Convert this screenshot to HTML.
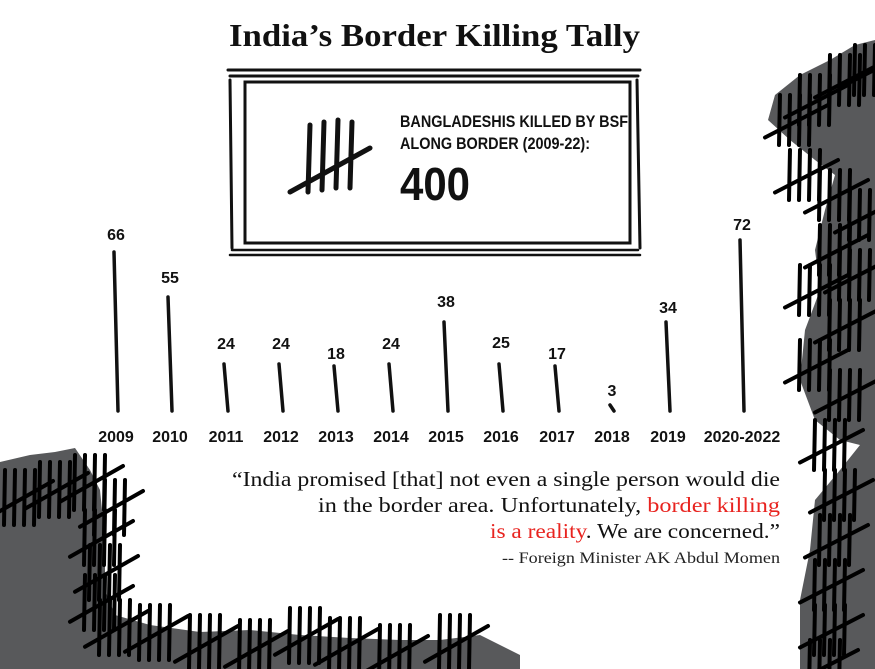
<!DOCTYPE html>
<html><head><meta charset="utf-8"><style>
body{margin:0;background:#fff}
svg{display:block}
.yr{font-family:"Liberation Sans",sans-serif;font-weight:bold;font-size:16px;fill:#111}
.q{font-family:"Liberation Serif",serif;font-size:21px;fill:#111}
</style></head><body>
<svg id="s" width="875" height="669" viewBox="0 0 875 669" xmlns="http://www.w3.org/2000/svg">
<path fill="#58595b" d="M0,462 L30,455 L55,452 L75,448 L90,470 L100,490 L105,540 L105,590 L115,615 L150,625 L200,632 L250,630 L300,635 L350,638 L400,640 L440,640 L480,635 L520,655 L520,669 L0,669Z"/>
<path fill="#58595b" d="M875,40 L855,45 L830,60 L800,75 L775,95 L768,120 L790,140 L815,160 L835,175 L825,210 L815,250 L820,290 L805,330 L800,380 L815,420 L840,440 L860,445 L840,470 L815,500 L810,550 L800,600 L800,669 L875,669Z"/>
<text x="229" y="46" textLength="411" lengthAdjust="spacingAndGlyphs" font-family="Liberation Serif,serif" font-weight="bold" font-size="32" fill="#111">India’s Border Killing Tally</text>
<g stroke="#111" fill="none" stroke-linecap="round">
<path d="M228,70 L640,70 M230,76 L638,76" stroke-width="3"/>
<path d="M230,255 L640,255 M232,250 L638,250" stroke-width="2.5"/>
<path d="M230,80 L232,248 M637,80 L640,248" stroke-width="3"/>
<rect x="245" y="82" width="385" height="161" stroke-width="3"/>
<path d="M310,125 L308,192 M324,122 L322,190 M338,120 L336,188 M352,122 L350,188 M290,192 L370,148" stroke-width="5"/>
</g>
<text x="400" y="127" textLength="228" lengthAdjust="spacingAndGlyphs" font-family="Liberation Sans,sans-serif" font-weight="bold" font-size="17" fill="#111">BANGLADESHIS KILLED BY BSF</text>
<text x="400" y="149" textLength="190" lengthAdjust="spacingAndGlyphs" font-family="Liberation Sans,sans-serif" font-weight="bold" font-size="17" fill="#111">ALONG BORDER (2009-22):</text>
<text x="400" y="200" textLength="70" lengthAdjust="spacingAndGlyphs" font-family="Liberation Sans,sans-serif" font-weight="bold" font-size="46" fill="#111">400</text>
<g id="bars" stroke="#111" stroke-width="3.5" stroke-linecap="round"></g>
<g id="labels"></g>
<g id="tal" stroke="#000" stroke-width="4" stroke-linecap="round"></g>
<text class="q" x="232" y="486" textLength="548" lengthAdjust="spacingAndGlyphs">“India promised [that] not even a single person would die</text>
<text class="q" x="318" y="512" textLength="462" lengthAdjust="spacingAndGlyphs">in the border area. Unfortunately, <tspan fill="#e8231f">border killing</tspan></text>
<text class="q" x="490" y="538" textLength="290" lengthAdjust="spacingAndGlyphs"><tspan fill="#e8231f">is a reality</tspan>. We are concerned.”</text>
<text x="502" y="563" textLength="278" lengthAdjust="spacingAndGlyphs" font-family="Liberation Serif,serif" font-size="16" fill="#222">-- Foreign Minister AK Abdul Momen</text>
</svg>
<script>
var NS="http://www.w3.org/2000/svg";
function el(t,a,p,txt){var e=document.createElementNS(NS,t);for(var k in a)e.setAttribute(k,a[k]);if(txt)e.textContent=txt;document.getElementById(p).appendChild(e);}
var d=[[116,"2009",66,252,234],[170,"2010",55,297,277],[226,"2011",24,364,343],[281,"2012",24,364,343],[336,"2013",18,366,353],[391,"2014",24,364,343],[446,"2015",38,322,301],[501,"2016",25,364,342],[557,"2017",17,366,353],[612,"2018",3,405,390],[668,"2019",34,322,307],[742,"2020-2022",72,240,224]];
d.forEach(function(b){
 el("line",{x1:b[0]-2,y1:b[3],x2:b[0]+2,y2:411},"bars");
 el("text",{x:b[0],y:b[4]+6,"text-anchor":"middle","class":"yr"},"labels",""+b[2]);
 el("text",{x:b[0],y:442,"text-anchor":"middle","class":"yr"},"labels",b[1]);
});
function tally(x,y,h){for(var i=0;i<4;i++)el("line",{x1:x+i*10,y1:y,x2:x+i*10-1,y2:y+h},"tal");el("line",{x1:x-15,y1:y+h*0.85,x2:x+48,y2:y+h*0.2},"tal");}
[[5,470],[40,462],[75,455],[95,480],[85,510],[90,545],[85,575],[100,600],[140,605],[190,615],[240,620],[290,608],[330,618],[380,625],[440,615]].forEach(function(p){tally(p[0],p[1],55);});
[[780,95],[800,75],[830,55],[855,45],[790,150],[820,170],[850,190],[820,225],[800,265],[840,250],[830,300],[800,340],[830,370],[815,420],[825,470],[820,515],[815,560],[815,605],[810,640]].forEach(function(p){tally(p[0],p[1],50);});
</script>
</body></html>
